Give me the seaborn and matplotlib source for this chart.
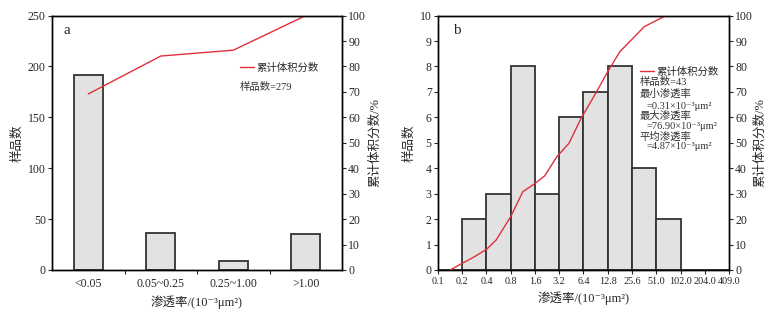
import numpy as np
import pandas as pd
import seaborn as sns
import matplotlib
matplotlib.use('Agg')
import matplotlib.pyplot as plt

sns.set_style('ticks')
plt.rcParams['font.family'] = ['Liberation Serif', 'Noto Sans CJK SC', 'DejaVu Serif']
plt.rcParams['axes.unicode_minus'] = False

# panel a data
a_cats = ['<0.05', '0.05~0.25', '0.25~1.00', '>1.00']
a_counts = [192, 36, 9, 35]
a_cum = [69.2, 84.1, 86.4, 100.0]

# panel b data
b_edges = ['0.1', '0.2', '0.4', '0.8', '1.6', '3.2', '6.4', '12.8', '25.6',
           '51.0', '102.0', '204.0', '409.0']
b_counts = [0, 2, 3, 8, 3, 6, 7, 8, 4, 2, 0, 0]
b_cum_x = [0.5, 1.5, 2.0, 2.4, 3.0, 3.5, 4.0, 4.4, 4.9, 5.4, 5.9, 6.5, 7.0, 7.5, 8.5, 9.4]
b_cum_y = [0, 5.2, 8.1, 11.8, 21.0, 30.8, 34.0, 37.0, 44.5, 49.8, 59.6, 69.4, 78.0, 85.8, 95.6, 100]

bar_fc = '#e2e2e2'
bar_ec = '#333333'
red = '#e0303a'
xlabel = '渗透率/(10⁻³μm²)'

fig = plt.figure(figsize=(7.73, 3.18), dpi=100)
ax_a = fig.add_axes([0.0673, 0.151, 0.3752, 0.800])
ax_b = fig.add_axes([0.5666, 0.151, 0.3765, 0.800])

# ---- panel a
sns.barplot(x=a_cats, y=a_counts, ax=ax_a, width=0.4, color=bar_fc,
            saturation=1, edgecolor=bar_ec, linewidth=1.3)
ax_a.set_xlim(-0.5, 3.5)
ax_a.set_ylim(0, 250)
ax_a.set_yticks(range(0, 251, 50))
ax_a.set_xticks(range(4))
ax_a.set_xticklabels(a_cats)
ax_a.set_xticks([0.5, 1.5, 2.5], minor=True)
ax_a.set_ylabel('样品数', fontsize=9, labelpad=3)
ax_a.set_xlabel(xlabel, fontsize=9, labelpad=4)
ax_a.text(0.038, 0.943, 'a', transform=ax_a.transAxes, fontsize=11, va='center')

ax_a2 = ax_a.twinx()
sns.lineplot(x=list(range(4)), y=a_cum, ax=ax_a2, color=red, linewidth=1,
             label='累计体积分数')
ax_a2.set_ylim(0, 100)
ax_a2.set_yticks(range(0, 101, 10))
ax_a2.set_ylabel('累计体积分数/%', fontsize=9, labelpad=2)
ax_a2.legend(loc='center left', bbox_to_anchor=(0.648, 0.794), frameon=False,
             borderpad=0, borderaxespad=0, handlelength=1.3, handletextpad=0.3,
             fontsize=7.5)
ax_a2.text(0.648, 0.719, '样品数=279', transform=ax_a2.transAxes, fontsize=7.5,
           va='center', color='#333333')

# ---- panel b
hist_df = pd.DataFrame({'pos': np.arange(12) + 0.5, 'n': b_counts})
sns.histplot(data=hist_df, x='pos', weights='n', bins=list(range(13)), ax=ax_b,
             color=bar_fc, alpha=1, edgecolor=bar_ec, linewidth=1.3)
ax_b.set_xlim(0, 12)
ax_b.set_ylim(0, 10)
ax_b.set_yticks(range(0, 11))
ax_b.set_xticks(range(13))
ax_b.set_xticklabels(b_edges)
ax_b.set_ylabel('样品数', fontsize=9, labelpad=3)
ax_b.set_xlabel(xlabel, fontsize=9, labelpad=4)
ax_b.text(0.052, 0.943, 'b', transform=ax_b.transAxes, fontsize=11, va='center')

ax_b2 = ax_b.twinx()
sns.lineplot(x=b_cum_x, y=b_cum_y, ax=ax_b2, color=red, linewidth=1,
             label='累计体积分数')
ax_b2.set_ylim(0, 100)
ax_b2.set_yticks(range(0, 101, 10))
ax_b2.set_ylabel('累计体积分数/%', fontsize=9, labelpad=1)
ax_b2.legend(loc='center left', bbox_to_anchor=(0.694, 0.779), frameon=False,
             borderpad=0, borderaxespad=0, handlelength=1.3, handletextpad=0.3,
             fontsize=7.5)
notes = [('样品数=43', 0.694, 0.740),
         ('最小渗透率', 0.694, 0.692),
         ('=0.31×10⁻³μm²', 0.718, 0.642),
         ('最大渗透率', 0.694, 0.605),
         ('=76.90×10⁻³μm²', 0.718, 0.563),
         ('平均渗透率', 0.694, 0.524),
         ('=4.87×10⁻³μm²', 0.718, 0.484)]
for txt, x, y in notes:
    ax_b2.text(x, y, txt, transform=ax_b2.transAxes, fontsize=7.5,
               va='center', color='#333333')

for ax in [ax_a, ax_b, ax_a2, ax_b2]:
    ax.tick_params(labelsize=8.5, width=0.8, length=3, pad=1.5)
    for s in ax.spines.values():
        s.set_visible(True)
        s.set_linewidth(1.0)
        s.set_color('black')
ax_a.tick_params(axis='x', which='major', length=0, pad=6, labelsize=8.5)
ax_a.tick_params(axis='x', which='minor', length=3, width=0.8, direction='out')
ax_b.tick_params(axis='x', labelsize=7.3, pad=2)

fig.savefig('out.png', dpi=100)
